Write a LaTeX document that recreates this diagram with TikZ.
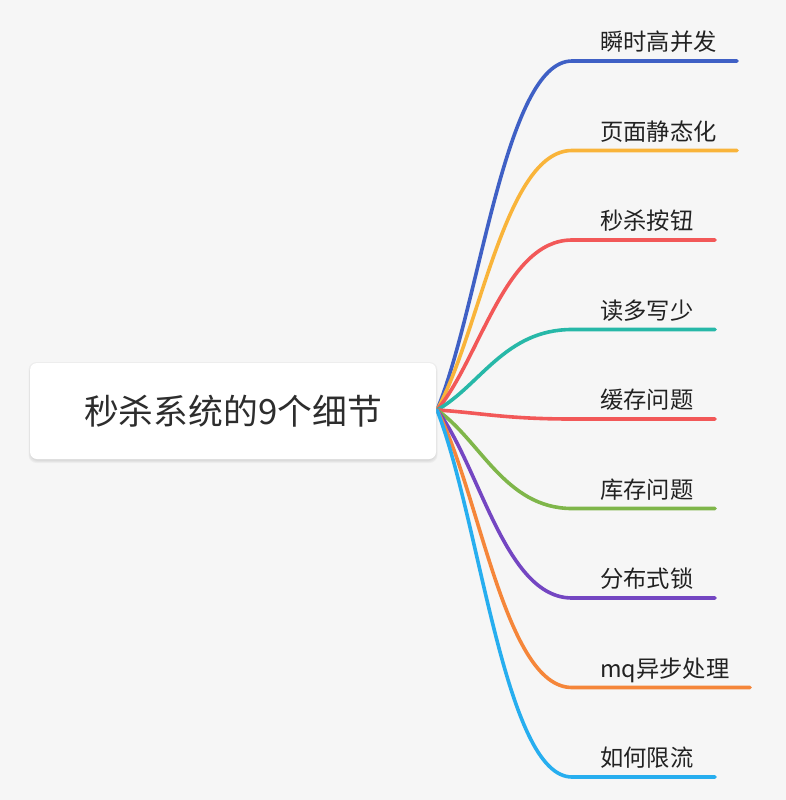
\documentclass[tikz,border=0pt]{standalone}
\usepackage{fontspec}
\newfontfamily\cjk{Noto Sans CJK SC}
\definecolor{bg}{HTML}{F6F6F6}
\definecolor{cA}{HTML}{3F60C5}
\definecolor{cB}{HTML}{F9B43A}
\definecolor{cC}{HTML}{F25858}
\definecolor{cD}{HTML}{27B8A8}
\definecolor{cE}{HTML}{F25858}
\definecolor{cF}{HTML}{7FB64A}
\definecolor{cG}{HTML}{7446C2}
\definecolor{cH}{HTML}{F5863A}
\definecolor{cI}{HTML}{27AEEF}
\definecolor{txt}{HTML}{222222}
\tikzset{
  branch/.style={line width=3.6pt, line cap=round, line join=round},
  lbl/.style={anchor=base west, inner sep=0pt, text=txt, font=\cjk\fontsize{23.3}{26}\selectfont},
  rootbox/.style={fill=white, rounded corners=7pt, minimum width=406pt, minimum height=96pt,
    inner sep=0pt, text=txt!95, font=\cjk\fontsize{34.8}{40}\selectfont},
  shade1/.style={fill=black, opacity=0.035, rounded corners=8pt}
}
\begin{document}
\begin{tikzpicture}[x=1pt,y=-1pt]
\fill[bg] (0,0) rectangle (786,800);
\useasboundingbox (0,0) rectangle (786,800);
\coordinate (o) at (437,410);
\foreach \i/\col/\txt/\ex in {1/cA/瞬时高并发/737, 2/cB/页面静态化/737, 3/cC/秒杀按钮/715, 4/cD/读多写少/715, 5/cE/缓存问题/715, 6/cF/库存问题/715, 7/cG/分布式锁/715, 8/cH/mq异步处理/750, 9/cI/如何限流/715}{
  \pgfmathsetmacro\yy{61+89.5*(\i-1)}
  \pgfmathsetmacro\cy{410+0.3*(\yy-410)}
  \pgfmathsetmacro\ty{\yy-10.5}
  \coordinate (b\i) at (572,\yy);
  \coordinate (e\i) at (\ex,\yy);
  \node[lbl] (t\i) at (600,\ty) {\txt};
  \draw[branch,\col] (o) .. controls (480,\cy) and (505,\yy) .. (b\i) -- (e\i);
}
\fill[shade1] (29,364) rectangle (437,462);
\fill[shade1] (30,363) rectangle (436,461);
\fill[shade1] (28.5,362) rectangle (437.5,463);
\node[rootbox] (root) at (233,411) {秒杀系统的9个细节};
\end{tikzpicture}
\end{document}
